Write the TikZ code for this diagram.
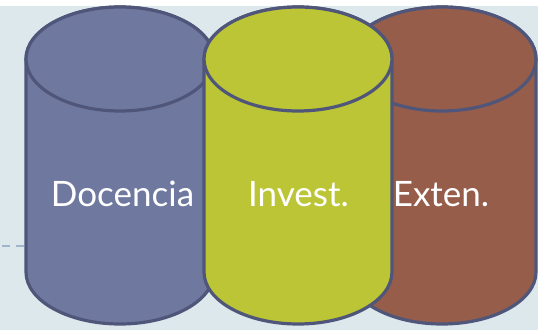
\documentclass[tikz,border=0pt]{standalone}
\usepackage{fontspec}
\setmainfont{Lato}
\definecolor{bgc}{HTML}{DDE8ED}
\definecolor{edgec}{HTML}{50567A}
\definecolor{docc}{HTML}{6F79A0}
\definecolor{invc}{HTML}{BBC535}
\definecolor{extc}{HTML}{955D4A}
\definecolor{dashc}{HTML}{9FB6CC}
\tikzset{
  cylbody/.style={draw=edgec, line width=3.2pt, line join=round},
  cyllabel/.style={text=white, inner sep=0pt, anchor=base, font=\fontsize{35}{40}\selectfont},
  guide/.style={draw=dashc, line width=2pt, dash pattern=on 8pt off 6pt}
}
\newcommand\mycyl[2]{%
  \path[cylbody, fill=#2] (#1-94,271) -- (#1-94,58)
    arc[start angle=180, end angle=360, x radius=94pt, y radius=52pt]
    -- (#1+94,271)
    arc[start angle=0, end angle=180, x radius=94pt, y radius=52pt] -- cycle;
  \path[cylbody, fill=#2] (#1,271) ellipse [x radius=94pt, y radius=52pt];
}
\begin{document}
\begin{tikzpicture}[x=1pt,y=1pt]
\useasboundingbox (0,0) rectangle (547,330);
\fill[white] (0,0) rectangle (547,330);
\fill[bgc] (0,0) rectangle (538,324);
\begin{scope}
\clip (0,0) rectangle (538,324);
\coordinate (dstart) at (2,84);
\coordinate (blueW) at (26,84);
\draw[guide] (dstart) -- (blueW);
\mycyl{120}{docc}
\mycyl{442}{extc}
\mycyl{298}{invc}
\end{scope}
\node[cyllabel] (doc) at (122.5,124) {Docencia};
\node[cyllabel] (inv) at (298.5,124) {Invest.};
\node[cyllabel] (ext) at (441,124) {Exten.};
\end{tikzpicture}
\end{document}
